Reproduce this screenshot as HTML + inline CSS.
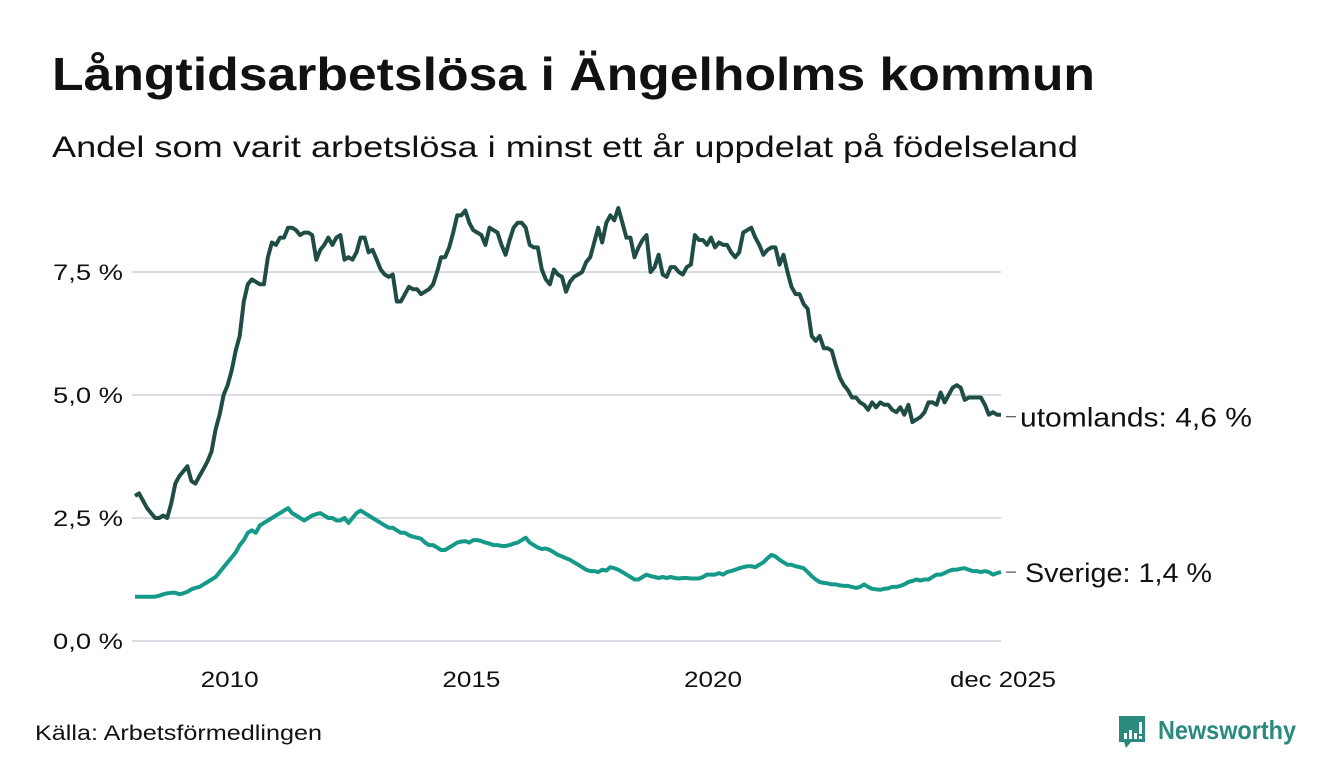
<!DOCTYPE html>
<html><head><meta charset="utf-8"><style>
html,body{margin:0;padding:0;background:#fff;}
svg{display:block;font-family:"Liberation Sans",sans-serif;}
</style></head><body>
<svg id="chart" width="1340" height="780" viewBox="0 0 1340 780" xmlns="http://www.w3.org/2000/svg">
<text x="52" y="90" font-size="46" font-weight="bold" fill="#111" textLength="1043" lengthAdjust="spacingAndGlyphs">Långtidsarbetslösa i Ängelholms kommun</text>
<text x="52" y="157" font-size="30" fill="#111" textLength="1026" lengthAdjust="spacingAndGlyphs">Andel som varit arbetslösa i minst ett år uppdelat på födelseland</text>
<g id="grid"></g>
<g id="yaxis"></g>
<g id="xaxis"></g>
<g id="series"></g>
<g id="labels"></g>
<text x="35" y="740" font-size="21" fill="#111" textLength="287" lengthAdjust="spacingAndGlyphs">Källa: Arbetsförmedlingen</text>
<g>
<path d="M1119 716 h26 v26 h-14 l-5 6 l-2 -6 h-5 z" fill="#2a8a7e"/>
<rect x="1124" y="733" width="3" height="6" fill="#fff"/><rect x="1129" y="730" width="3" height="9" fill="#fff"/><rect x="1134" y="733" width="3" height="6" fill="#fff"/><rect x="1139" y="722" width="3" height="12" fill="#fff"/><rect x="1139" y="736" width="3" height="3" fill="#fff"/>
<text x="1158" y="739" font-size="26" font-weight="bold" fill="#2a8a7e" textLength="138" lengthAdjust="spacingAndGlyphs">Newsworthy</text>
</g>
</svg>
<script>
const startYear = 2008;
const yTicks = [0, 2.5, 5.0, 7.5];
const yTickLabels = ["0,0 %", "2,5 %", "5,0 %", "7,5 %"];
const xTickYears = [2010, 2015, 2020];
const xTickLabels = ["2010", "2015", "2020", "dec 2025"];
const utomlands = [
2.95,3.0,2.85,2.7,2.6,2.5,2.5,2.55,2.5,2.8,3.2,3.35,
3.45,3.55,3.25,3.2,3.35,3.5,3.65,3.85,4.3,4.6,5.0,5.2,
5.5,5.9,6.2,6.9,7.25,7.35,7.3,7.25,7.25,7.8,8.1,8.05,
8.2,8.2,8.4,8.4,8.35,8.25,8.3,8.3,8.25,7.75,7.95,8.05,
8.2,8.05,8.2,8.25,7.75,7.8,7.75,7.9,8.2,8.2,7.9,7.95,
7.75,7.55,7.45,7.4,7.45,6.9,6.9,7.05,7.2,7.15,7.15,7.05,
7.1,7.15,7.25,7.5,7.8,7.8,8.0,8.3,8.65,8.65,8.75,8.5,
8.35,8.3,8.25,8.05,8.4,8.35,8.3,8.05,7.85,8.15,8.4,8.5,
8.5,8.4,8.05,8.0,8.0,7.55,7.35,7.25,7.55,7.45,7.4,7.1,
7.3,7.4,7.45,7.5,7.7,7.8,8.1,8.4,8.1,8.5,8.65,8.55,
8.8,8.5,8.2,8.2,7.8,8.0,8.15,8.25,7.5,7.6,7.85,7.45,
7.4,7.6,7.6,7.5,7.45,7.6,7.65,8.25,8.15,8.15,8.05,8.2,
8.0,8.1,8.05,8.05,7.9,7.8,7.9,8.3,8.35,8.4,8.2,8.05,
7.85,7.95,8.0,8.0,7.65,7.85,7.5,7.2,7.05,7.05,6.85,6.75,
6.2,6.1,6.2,5.95,5.95,5.9,5.6,5.35,5.2,5.1,4.95,4.95,
4.85,4.8,4.7,4.85,4.75,4.85,4.8,4.8,4.7,4.65,4.75,4.6,
4.8,4.45,4.5,4.55,4.65,4.85,4.85,4.8,5.05,4.85,5.0,5.15,
5.2,5.15,4.9,4.95,4.95,4.95,4.95,4.8,4.6,4.65,4.6,4.6];
const sverige = [
0.9,0.9,0.9,0.9,0.9,0.9,0.92,0.95,0.97,0.98,0.98,0.95,
0.97,1.0,1.05,1.08,1.1,1.15,1.2,1.25,1.3,1.4,1.5,1.6,
1.7,1.8,1.95,2.05,2.2,2.25,2.2,2.35,2.4,2.45,2.5,2.55,
2.6,2.65,2.7,2.6,2.55,2.5,2.45,2.5,2.55,2.58,2.6,2.55,
2.5,2.5,2.45,2.45,2.5,2.4,2.5,2.6,2.65,2.6,2.55,2.5,
2.45,2.4,2.35,2.3,2.3,2.25,2.2,2.2,2.15,2.12,2.1,2.08,
2.0,1.95,1.95,1.9,1.85,1.85,1.9,1.95,2.0,2.02,2.03,2.0,
2.05,2.05,2.03,2.0,1.98,1.95,1.95,1.93,1.93,1.95,1.98,2.0,
2.05,2.1,2.0,1.95,1.9,1.87,1.88,1.85,1.8,1.75,1.72,1.68,
1.65,1.6,1.55,1.5,1.45,1.42,1.42,1.4,1.45,1.43,1.5,1.48,
1.45,1.4,1.35,1.3,1.25,1.25,1.3,1.35,1.32,1.3,1.28,1.3,
1.28,1.3,1.28,1.27,1.28,1.28,1.27,1.27,1.27,1.3,1.35,1.35,
1.35,1.38,1.35,1.4,1.42,1.45,1.48,1.5,1.52,1.52,1.5,1.55,
1.6,1.68,1.75,1.72,1.65,1.6,1.55,1.55,1.52,1.5,1.48,1.4,
1.32,1.25,1.2,1.18,1.17,1.15,1.15,1.13,1.12,1.12,1.1,1.08,
1.1,1.15,1.1,1.06,1.05,1.04,1.06,1.07,1.1,1.1,1.12,1.15,
1.2,1.22,1.25,1.23,1.25,1.25,1.3,1.35,1.35,1.38,1.42,1.45,
1.45,1.47,1.48,1.45,1.42,1.42,1.4,1.42,1.4,1.35,1.38,1.4];
const seriesNames = ["utomlands", "Sverige"];

const NS = "http://www.w3.org/2000/svg";
const x0 = 135, x1 = 1001, yBase = 641, pxPerUnit = 49.2;
const nMonths = utomlands.length;
function xScale(i){ return x0 + i * (x1 - x0) / (nMonths - 1); }
function yScale(v){ return yBase - v * pxPerUnit; }
function mk(tag, attrs, parent){ const e = document.createElementNS(NS, tag); for (const k in attrs) e.setAttribute(k, attrs[k]); parent.appendChild(e); return e; }
function fmt(v){ return v.toFixed(1).replace('.', ',') + " %"; }

const grid = document.getElementById('grid');
const yaxis = document.getElementById('yaxis');
yTicks.forEach((t, i) => {
  const l = mk('line', {x1: 132, x2: 1001, y1: yScale(t), y2: yScale(t), stroke: '#dcdce4', 'stroke-width': 2}, grid);
  
  
  const tx = mk('text', {x: 123, y: yScale(t) + 8, 'font-size': 22, fill: '#111', 'text-anchor': 'end', textLength: 70, lengthAdjust: 'spacingAndGlyphs'}, yaxis);
  
  
  tx.textContent = yTickLabels[i];
});
const xaxis = document.getElementById('xaxis');
xTickYears.forEach((yr, i) => {
  const tx = mk('text', {x: xScale((yr - startYear) * 12) - 2, y: 687, 'font-size': 22, fill: '#111', 'text-anchor': 'middle', textLength: 58, lengthAdjust: 'spacingAndGlyphs'}, xaxis);
  
  
  tx.textContent = xTickLabels[i];
});
const last = mk('text', {x: xScale(nMonths - 1) + 2, y: 687, 'font-size': 22, fill: '#111', 'text-anchor': 'middle', textLength: 106, lengthAdjust: 'spacingAndGlyphs'}, xaxis);


last.textContent = xTickLabels[3];

const sg = document.getElementById('series');
const lg = document.getElementById('labels');
const labelW = [232, 187];
[[utomlands, '#1f4d45', 0], [sverige, '#159a8a', 1]].forEach(([data, col, idx]) => {
  const d = data.map((v, i) => (i ? 'L' : 'M') + xScale(i).toFixed(1) + ' ' + yScale(v).toFixed(1)).join(' ');
  const p = mk('path', {d: d, fill: 'none', stroke: col, 'stroke-width': 4, 'stroke-linejoin': 'round'}, sg);
  
  
  const lv = data[data.length - 1];
  const ly = yScale(lv) + (idx === 0 ? 2 : 0);
  const tick = mk('line', {x1: 1006, x2: 1016, y1: ly, y2: ly, stroke: '#555', 'stroke-width': 1.2}, lg);
  
  
  const t = mk('text', {x: idx === 0 ? 1020 : 1025, y: ly + 10, 'font-size': 27, fill: '#111', textLength: labelW[idx], lengthAdjust: 'spacingAndGlyphs'}, lg);
  
  
  t.textContent = seriesNames[idx] + ': ' + fmt(lv);
});
</script>
</body></html>
